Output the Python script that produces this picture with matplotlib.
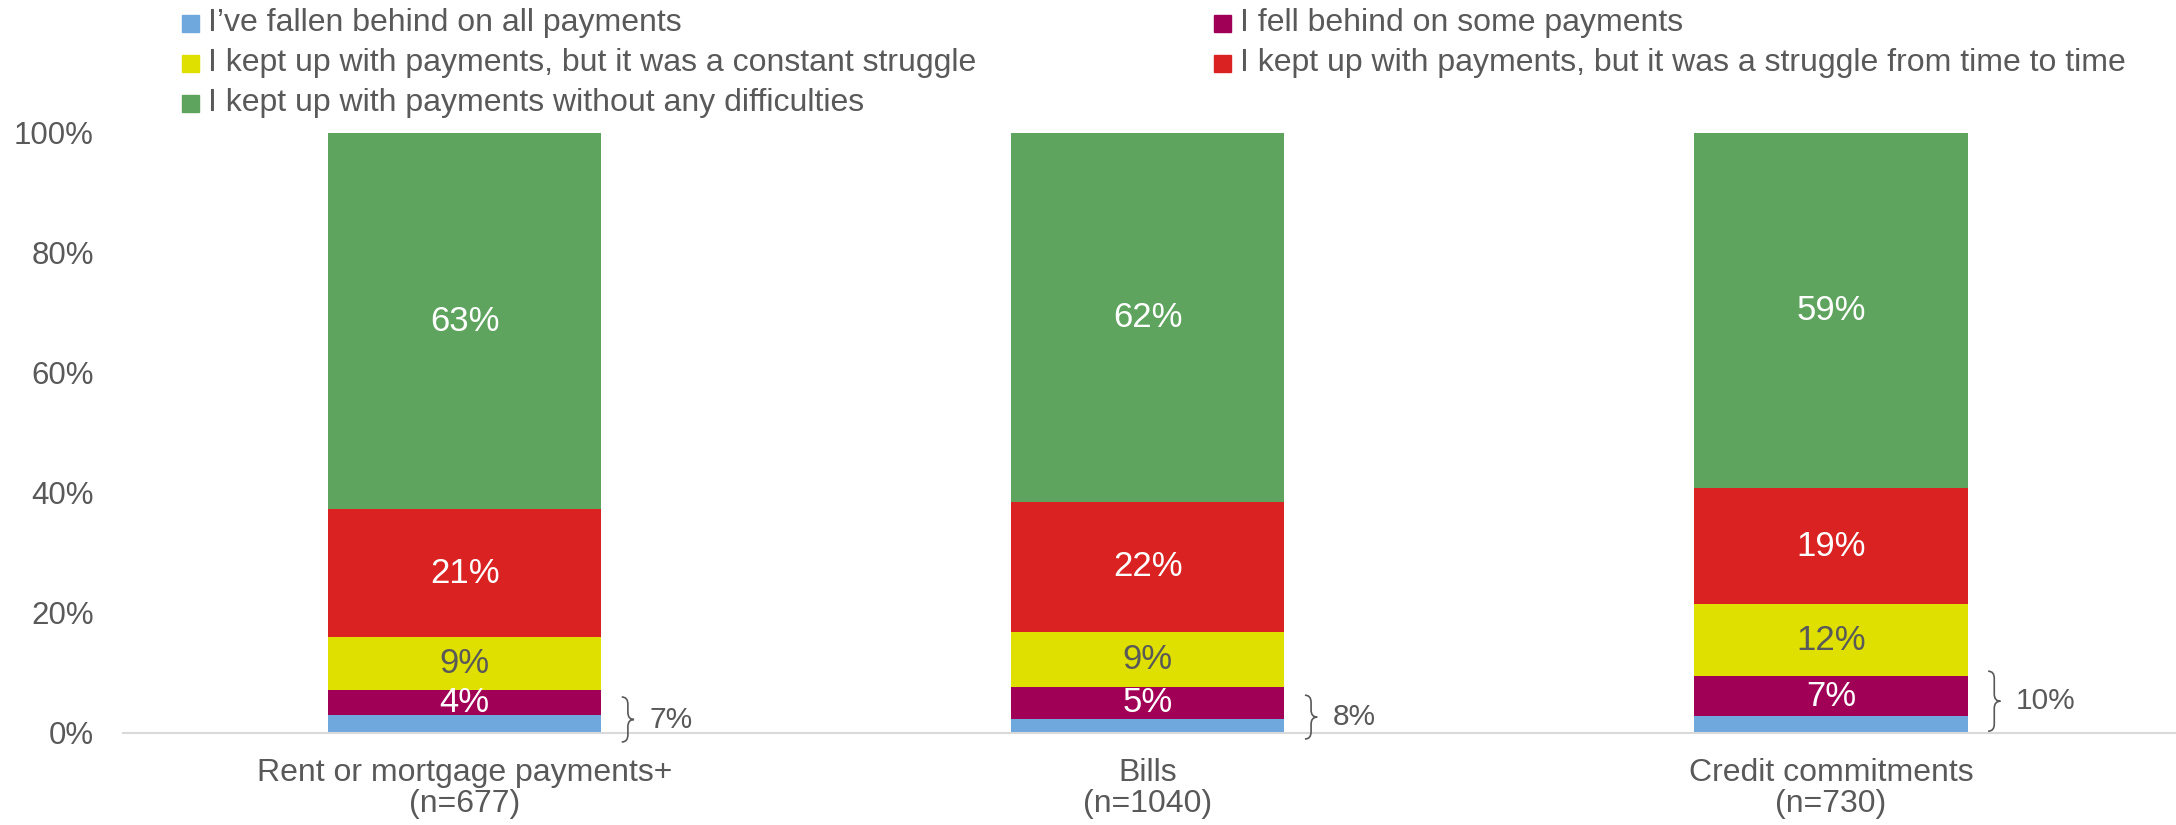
import numpy as np
import matplotlib
matplotlib.use('Agg')
from matplotlib import pyplot as plt
from matplotlib.patches import Rectangle, PathPatch
from matplotlib.path import Path

plt.rcParams['font.family'] = ['Liberation Sans', 'DejaVu Sans']

# data (percent of respondents)
categories = ['Rent or mortgage payments+\n(n=677)', 'Bills\n(n=1040)', 'Credit commitments\n(n=730)']
series = ['I\u2019ve fallen behind on all payments',
          'I fell behind on some payments',
          'I kept up with payments, but it was a constant struggle',
          'I kept up with payments, but it was a struggle from time to time',
          'I kept up with payments without any difficulties']
fallen_all = [3.0, 2.3, 2.8]
fallen_some = [4.2, 5.4, 6.7]
constant = [8.8, 9.2, 12.0]
time_to_time = [21.3, 21.6, 19.3]
no_difficulty = [62.7, 61.5, 59.2]
behind_total = ['7%', '8%', '10%']

values = [fallen_all, fallen_some, constant, time_to_time, no_difficulty]
colors = ['#6FA8DC', '#A00055', '#DFE000', '#DA2222', '#5EA35E']
label_colors = [None, 'white', '#595959', 'white', 'white']
grey = '#595959'

fig = plt.figure(figsize=(21.76, 8.25), dpi=100)
ax = fig.add_axes([123/2176, 92/825, 1 - 123/2176, 600/825])

x = np.arange(len(categories))
bottom = np.zeros(len(categories))
for vals, col, lc in zip(values, colors, label_colors):
    vals = np.array(vals)
    ax.bar(x, vals, 0.4, bottom=bottom, color=col, zorder=2)
    if lc is not None:
        for xi, b, v in zip(x, bottom, vals):
            ax.text(xi, b + v / 2, '%d%%' % round(v), ha='center', va='center',
                    fontsize=25, color=lc, zorder=3)
    bottom += vals

# braces showing total fallen behind
brace_spans = [(-1.5, 6.0), (-1.0, 6.3), (0.3, 10.3)]
w = 0.018
for xi, (y0, y1), lab in zip(x, brace_spans, behind_total):
    xb = xi + 0.23
    ym = (y0 + y1) / 2
    r = 1.2
    verts = [(xb, y1), (xb + w/2, y1), (xb + w/2, y1 - r),
             (xb + w/2, ym + r), (xb + w/2, ym), (xb + w, ym),
             (xb + w/2, ym), (xb + w/2, ym - r),
             (xb + w/2, y0 + r), (xb + w/2, y0), (xb, y0)]
    codes = [Path.MOVETO, Path.CURVE3, Path.CURVE3,
             Path.LINETO, Path.CURVE3, Path.CURVE3,
             Path.CURVE3, Path.CURVE3,
             Path.LINETO, Path.CURVE3, Path.CURVE3]
    ax.add_patch(PathPatch(Path(verts, codes), fill=False, edgecolor=grey,
                           lw=1.2, clip_on=False, zorder=3))
    ax.text(xi + 0.27, ym, lab, ha='left', va='center', fontsize=21.5, color=grey)

ax.set_xlim(-0.5, 2.505)
ax.set_ylim(0, 100)
ax.set_yticks(np.arange(0, 101, 20))
ax.set_yticklabels(['%d%%' % t for t in range(0, 101, 20)])
ax.set_xticks(x)
ax.set_xticklabels(categories, linespacing=1.05)
ax.tick_params(axis='y', length=0, pad=21, labelsize=22.5, labelcolor=grey)
ax.tick_params(axis='x', length=0, pad=18, labelsize=23, labelcolor=grey)
for s in ['top', 'right', 'left']:
    ax.spines[s].set_visible(False)
ax.spines['bottom'].set_color('#D9D9D9')
ax.spines['bottom'].set_linewidth(1.5)

# legend, drawn by hand in figure pixels
legend_pos = [(182, 23), (182, 63), (182, 103), (1214, 23), (1214, 63)]
order = [0, 2, 4, 1, 3]
for (px, py), i in zip(legend_pos, order):
    fig.add_artist(Rectangle((px / 2176, 1 - (py + 9) / 825), 17 / 2176, 17 / 825,
                             transform=fig.transFigure, color=colors[i]))
    fig.text((px + 26) / 2176, 1 - py / 825, series[i], ha='left', va='center',
             fontsize=23, color=grey)

fig.savefig('out.png', dpi=100)
